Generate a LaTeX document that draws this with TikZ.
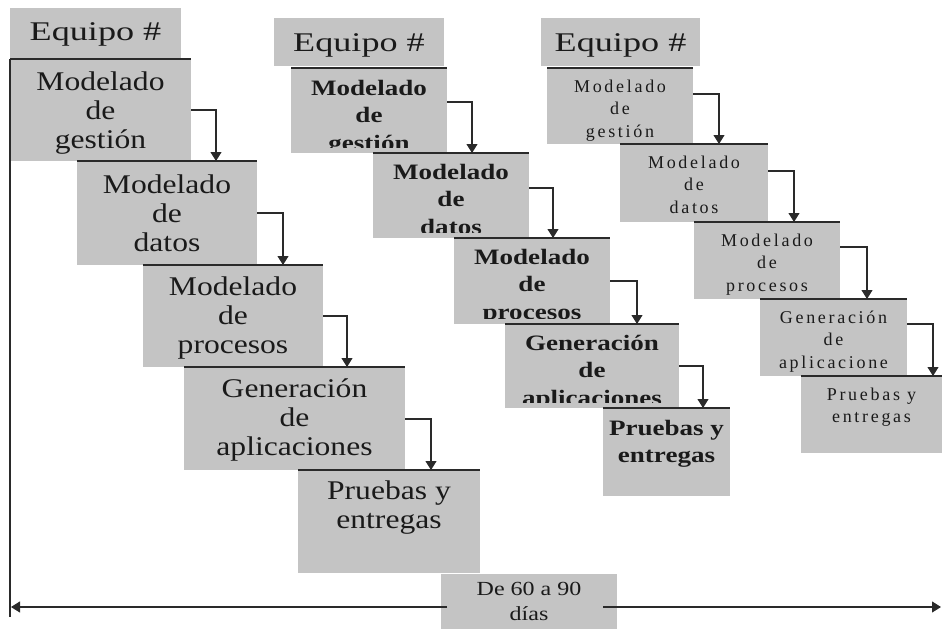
\documentclass[tikz,border=0pt]{standalone}
\usepackage{fontspec}
\setmainfont{Liberation Serif}
\newfontfamily\fa[FakeStretch=1.17]{Liberation Serif}
\newfontfamily\fb[FakeStretch=1.23]{Liberation Serif}
\newfontfamily\fc[LetterSpace=15]{Liberation Serif}
\newfontfamily\fd[FakeStretch=1.2]{Liberation Serif}
\newfontfamily\fe[FakeStretch=1.34]{Liberation Serif}
\usetikzlibrary{arrows.meta,calc}
\definecolor{boxgray}{HTML}{C4C4C4}
\definecolor{lineclr}{HTML}{2A2A2A}
\definecolor{txt}{HTML}{1A1A1A}
\tikzset{
  boxst/.style={fill=boxgray, draw=none, inner sep=0pt, outer sep=0pt},
  topln/.style={draw=lineclr, line width=1.1pt},
  arr/.style={draw=lineclr, line width=1.1pt, -{Triangle[width=11pt,length=9pt]}},
  tE/.style={inner sep=0pt, text=txt, font=\fontsize{27}{29}\selectfont\fe},
  tA/.style={inner sep=0pt, align=center, text=txt, font=\fontsize{27}{29}\selectfont\fa},
  tB/.style={inner sep=0pt, align=center, text=txt, font=\fontsize{22}{27.5}\selectfont\fb\bfseries},
  tC/.style={inner sep=0pt, align=center, text=txt, font=\fontsize{18}{22.5}\selectfont\fc},
  tD/.style={inner sep=0pt, align=center, text=txt, font=\fontsize{20}{25}\selectfont\fd},
}
\newcommand\mybox[5]{\node[boxst,anchor=north west,minimum width={#4-#2},minimum height={#5-#3}] (#1) at (#2,#3) {};}
\begin{document}
\begin{tikzpicture}[x=1pt,y=-1pt]
\fill[white] (0,0) rectangle (942,629);
\useasboundingbox (0,0) rectangle (942,629);

% ---------- column 1 ----------
\mybox{E1}{10}{8}{181}{59}
\mybox{g1}{10}{59}{191}{161}
\mybox{d1}{77}{161}{257}{265}
\mybox{p1}{143}{265}{323}{367}
\mybox{a1}{184}{367}{405}{470}
\mybox{r1}{298}{470}{480}{573}
% ---------- column 2 ----------
\mybox{E2}{274}{18}{444}{66}
\mybox{g2}{291}{68}{447}{153}
\mybox{d2}{373}{153}{529}{238}
\mybox{p2}{454}{238}{610}{324}
\mybox{a2}{505}{324}{679}{408}
\mybox{r2}{603}{408}{730}{496}
% ---------- column 3 ----------
\mybox{E3}{541}{18}{700}{66}
\mybox{g3}{547}{68}{693}{144}
\mybox{d3}{620}{144}{768}{222}
\mybox{p3}{694}{222}{840}{299}
\mybox{a3}{760}{299}{907}{376}
\mybox{r3}{801}{376}{942}{453}
% ---------- duration ----------
\mybox{dur}{441}{574}{617}{629}

% top border lines
\foreach \b in {g1,d1,p1,a1,r1,g2,d2,p2,a2,r2,g3,d3,p3,a3,r3}
  \draw[topln] (\b.north west) -- (\b.north east);

% texts column 1 (anchor base = last line)
\node[tE,anchor=base] (E1t) at ($(E1.north)+(0,32)$) {Equipo \#};
\node[tA,anchor=base] (g1t) at ($(g1.north)+(0,89)$) {Modelado\\de\\gestión};
\node[tA,anchor=base] (d1t) at ($(d1.north)+(0,90)$) {Modelado\\de\\datos};
\node[tA,anchor=base] (p1t) at ($(p1.north)+(0,88)$) {Modelado\\de\\procesos};
\node[tA,anchor=base] (a1t) at ($(a1.north)+(0,88)$) {Generación\\de\\aplicaciones};
\node[tA,anchor=base] (r1t) at ($(r1.north)+(0,58)$) {Pruebas y\\entregas};

% texts column 2 (clipped)
\node[tE,anchor=base] (E2t) at ($(E2.north)+(0,33)$) {Equipo \#};
\begin{scope}\clip (g2.north west) rectangle ([yshift=6pt]g2.south east);
\node[tB,anchor=base] (g2t) at ($(g2.north)+(0,82)$) {Modelado\\de\\gestión};\end{scope}
\begin{scope}\clip (d2.north west) rectangle ([yshift=6pt]d2.south east);
\node[tB,anchor=base] (d2t) at ($(d2.north)+(0,81)$) {Modelado\\de\\datos};\end{scope}
\begin{scope}\clip (p2.north west) rectangle ([yshift=6pt]p2.south east);
\node[tB,anchor=base] (p2t) at ($(p2.north)+(0,81)$) {Modelado\\de\\procesos};\end{scope}
\begin{scope}\clip (a2.north west) rectangle ([yshift=6pt]a2.south east);
\node[tB,anchor=base] (a2t) at ($(a2.north)+(0,81)$) {Generación\\de\\aplicaciones};\end{scope}
\node[tB,anchor=base] (r2t) at ($(r2.north)+(0,54.5)$) {Pruebas y\\entregas};

% texts column 3
\node[tE,anchor=base] (E3t) at ($(E3.north)+(0,33)$) {Equipo \#};
\node[tC,anchor=base] (g3t) at ($(g3.north)+(0,69)$) {Modelado\\de\\gestión};
\node[tC,anchor=base] (d3t) at ($(d3.north)+(0,69)$) {Modelado\\de\\datos};
\node[tC,anchor=base] (p3t) at ($(p3.north)+(0,69)$) {Modelado\\de\\procesos};
\node[tC,anchor=base] (a3t) at ($(a3.north)+(0,69)$) {Generación\\de\\aplicacione};
\node[tC,anchor=base] (r3t) at ($(r3.north)+(0,46.5)$) {Pruebas y\\entregas};

% duration text
\node[tD,anchor=base] (durt) at ($(dur.north)+(0,46)$) {De 60 a 90\\días};

% arrows column 1
\draw[arr] ([yshift=-51pt]g1.north east) -| ([xshift=25pt]g1.north east |- d1.north);
\draw[arr] ([yshift=-52pt]d1.north east) -| ([xshift=26pt]d1.north east |- p1.north);
\draw[arr] ([yshift=-51pt]p1.north east) -| ([xshift=24pt]p1.north east |- a1.north);
\draw[arr] ([yshift=-52pt]a1.north east) -| ([xshift=26pt]a1.north east |- r1.north);
% arrows column 2
\draw[arr] ([yshift=-34pt]g2.north east) -| ([xshift=25pt]g2.north east |- d2.north);
\draw[arr] ([yshift=-35pt]d2.north east) -| ([xshift=24pt]d2.north east |- p2.north);
\draw[arr] ([yshift=-43pt]p2.north east) -| ([xshift=27pt]p2.north east |- a2.north);
\draw[arr] ([yshift=-42pt]a2.north east) -| ([xshift=24pt]a2.north east |- r2.north);
% arrows column 3
\draw[arr] ([yshift=-26pt]g3.north east) -| ([xshift=26pt]g3.north east |- d3.north);
\draw[arr] ([yshift=-27pt]d3.north east) -| ([xshift=26pt]d3.north east |- p3.north);
\draw[arr] ([yshift=-25pt]p3.north east) -| ([xshift=27pt]p3.north east |- a3.north);
\draw[arr] ([yshift=-25pt]a3.north east) -| ([xshift=26pt]a3.north east |- r3.north);

% time axis
\coordinate (vbot) at (10,617);
\coordinate (L) at (11,607);
\coordinate (R) at (941,607);
\draw[topln] (g1.north west) -- (vbot);
\draw[arr] ([xshift=6pt,yshift=-33pt]dur.north west) -- (L);
\draw[arr] ([xshift=-14pt,yshift=-33pt]dur.north east) -- (R);
\end{tikzpicture}
\end{document}
